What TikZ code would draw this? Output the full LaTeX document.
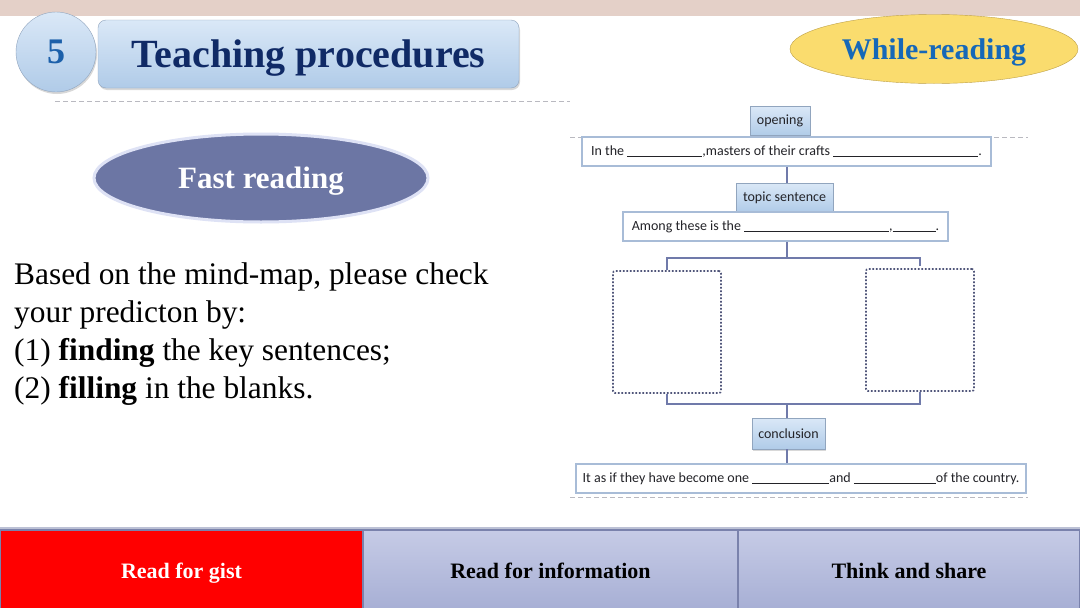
\documentclass[tikz,border=0pt]{standalone}
\usepackage{fontspec}
\setmainfont{Liberation Serif}
\newfontfamily\mapfont{Carlito}
\usetikzlibrary{positioning, shapes.geometric, shadows, calc}
\definecolor{TopBand}{RGB}{228,208,200}
\definecolor{TitleNavy}{RGB}{16,42,102}
\definecolor{NumBlue}{RGB}{28,96,170}
\definecolor{BubbleTop}{RGB}{218,232,247}
\definecolor{BubbleBot}{RGB}{176,203,232}
\definecolor{BubbleEdge}{RGB}{145,165,190}
\definecolor{WhileYellow}{RGB}{250,220,110}
\definecolor{WhileEdge}{RGB}{190,160,70}
\definecolor{WhileBlue}{RGB}{22,104,184}
\definecolor{FastSlate}{RGB}{108,118,164}
\definecolor{FastRim}{RGB}{222,226,245}
\definecolor{MapLine}{RGB}{112,122,170}
\definecolor{MapEdge}{RGB}{168,188,215}
\definecolor{MapDot}{RGB}{80,86,122}
\definecolor{MapText}{RGB}{35,35,40}
\definecolor{GuideGrey}{RGB}{185,185,192}
\definecolor{TabRed}{RGB}{255,0,0}
\definecolor{TabLilacA}{RGB}{198,203,230}
\definecolor{TabLilacB}{RGB}{166,174,212}
\definecolor{TabEdge}{RGB}{122,130,172}
\newcommand{\fillin}[1]{\rule[-1.5pt]{#1}{0.7pt}}
\tikzset{
  bubble/.style={draw=BubbleEdge, top color=BubbleTop, bottom color=BubbleBot,
    drop shadow={opacity=0.3, shadow xshift=1pt, shadow yshift=-2pt}},
  labelbox/.style={bubble, minimum height=29pt, inner xsep=4pt, inner ysep=0pt,
    text=MapText, font=\mapfont\fontsize{14}{16}\selectfont},
  linebox/.style={draw=MapEdge, line width=1.5pt, fill=white, minimum height=29pt,
    inner xsep=6pt, inner ysep=0pt, text=MapText, font=\mapfont\fontsize{14}{16}\selectfont},
  dotbox/.style={draw=MapDot, line width=1.7pt, dash pattern=on 1.7pt off 1.8pt,
    rounded corners=2pt, minimum width=108pt, minimum height=122pt},
  link/.style={MapLine, line width=2.5pt},
  guide/.style={GuideGrey, dash pattern=on 5pt off 3pt, line width=0.8pt},
  tab/.style={draw=TabEdge, line width=1.2pt, outer sep=0pt, minimum height=82pt,
    text depth=0pt, font=\fontsize{22}{22}\selectfont\bfseries}
}

\begin{document}
\begin{tikzpicture}[x=1pt,y=-1pt]
  \useasboundingbox (0,0) rectangle (1080,608);
  \fill[white] (0,0) rectangle (1080,608);
  \fill[TopBand] (0,0) rectangle (1080,16);

  \node[bubble, circle, minimum size=80pt, inner sep=0pt, text=NumBlue,
    font=\fontsize{36}{36}\selectfont\bfseries] (num) at (56,52) {5};
  \node[bubble, rounded corners=8pt, minimum width=421pt, minimum height=68pt, text depth=0pt,
    text=TitleNavy, font=\fontsize{40}{40}\selectfont\bfseries] (title) at (308.5,54) {Teaching procedures};
  \draw[guide] (55,101) -- (570,101);

  \node[ellipse, draw=WhileEdge, fill=WhileYellow, minimum width=288pt, minimum height=69pt,
    inner sep=0pt, text depth=0pt, text=WhileBlue,
    font=\fontsize{30}{30}\selectfont\bfseries] (phase) at (934,49) {While-reading};

  \node[ellipse, fill=FastSlate, draw=FastRim, line width=3pt, minimum width=334pt,
    minimum height=88pt, inner sep=0pt, text depth=0pt, text=white,
    font=\fontsize{31}{31}\selectfont\bfseries] (fast) at (261,178) {Fast reading};

  \node[anchor=north west, align=left, inner sep=0pt,
    font=\fontsize{31.4}{38}\selectfont] (task) at (14,263)
    {Based on the mind-map, please check\\
     your predicton by:\\
     (1) \textbf{finding} the key sentences;\\
     (2) \textbf{filling} in the blanks.};

  \draw[guide] (570,137) -- (1028,137);
  \draw[guide] (570,497) -- (1028,497);

  \node[labelbox, minimum width=60pt] (opening) at (780,121) {opening};
  \node[linebox, minimum width=409pt] (openline) at (786.5,151.5)
    {In the \fillin{75pt},masters of their crafts \fillin{145pt}.};
  \node[labelbox, minimum width=97pt] (topic) at (784.5,197.5) {topic sentence};
  \node[linebox, minimum width=325pt] (topicline) at (785.5,226.5)
    {Among these is the \fillin{145pt},\fillin{43pt}.};
  \node[dotbox] (leftpart) at (667,332) {};
  \node[dotbox] (rightpart) at (920,330) {};
  \node[labelbox, minimum width=73pt, minimum height=31pt] (conclusion) at (788.5,433.5) {conclusion};
  \node[linebox, minimum width=450pt] (endline) at (801,478.5)
    {It as if they have become one \fillin{77pt}and \fillin{82pt}of the country.};

  \coordinate (split) at (787,258);
  \coordinate (merge) at (787,404);
  \draw[link] (openline.south -| split) -- (topic.north -| split);
  \draw[link] (topicline.south -| split) -- (split);
  \draw[link] (leftpart.north) |- (split) -| ([yshift=2pt]rightpart.north);
  \draw[link] (leftpart.south) |- (merge) -| (rightpart.south);
  \draw[link] (merge) -- (conclusion.north -| merge);
  \draw[link] (conclusion.south -| merge) -- (endline.north -| merge);

  \draw[TabEdge!50, line width=3pt] (0,528) -- (1080,528);
  \node[tab, fill=TabRed, text=white, minimum width=363pt, anchor=north west] (gist) at (0,530) {Read for gist};
  \node[tab, top color=TabLilacA, bottom color=TabLilacB, minimum width=375pt, right=0pt of gist] (info) {Read for information};
  \node[tab, top color=TabLilacA, bottom color=TabLilacB, minimum width=342pt, right=0pt of info] (share) {Think and share};
\end{tikzpicture}
\end{document}
